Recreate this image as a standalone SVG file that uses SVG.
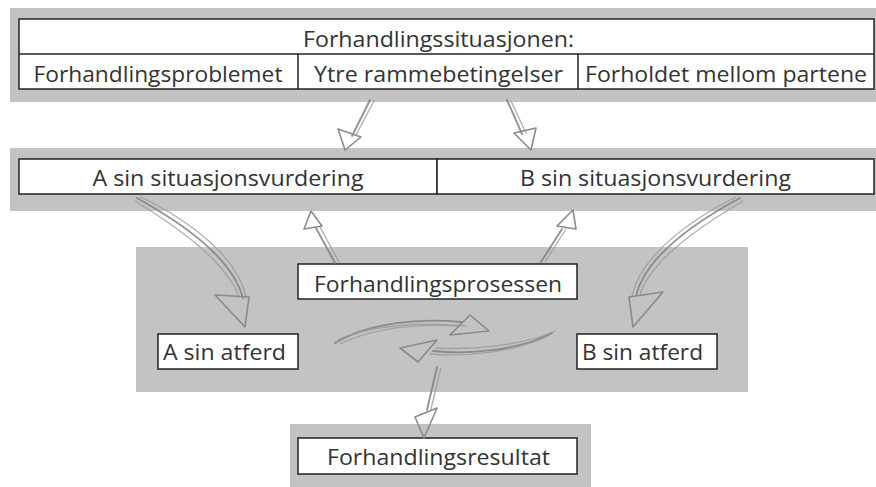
<svg xmlns="http://www.w3.org/2000/svg" width="876" height="487" viewBox="0 0 876 487">
<style>
.band{fill:#c3c3c3}
.box{fill:#fff;stroke:#222;stroke-width:1.5}
.sep{stroke:#222;stroke-width:1.5}
.t{font-family:"Open Sans","Noto Sans","Liberation Sans",sans-serif;font-size:21.5px;fill:#333;text-anchor:middle}
.sh{fill:none;stroke:#808080;stroke-width:1.9;stroke-linecap:round;opacity:.85}
.sh2{fill:none;stroke:#999;stroke-width:1.3;stroke-linecap:round;opacity:.8}
.hd{fill:none;stroke:#8a8a8a;stroke-width:1.6;stroke-linejoin:round}
</style>
<rect width="876" height="487" fill="#fff"/>
<g id="forhandlingssituasjonen">
<rect class="band" x="10" y="8" width="866" height="94"/>
<rect class="box" x="19" y="19" width="855" height="70"/>
<line class="sep" x1="19" y1="54" x2="874" y2="54"/>
<line class="sep" x1="298" y1="54" x2="298" y2="89"/>
<line class="sep" x1="578" y1="54" x2="578" y2="89"/>
<text class="t" x="438.5" y="47" textLength="271" lengthAdjust="spacingAndGlyphs">Forhandlingssituasjonen:</text>
<g id="forhandlingsproblemet"><text class="t" x="158" y="82" textLength="249" lengthAdjust="spacingAndGlyphs">Forhandlingsproblemet</text></g>
<g id="ytre-rammebetingelser"><text class="t" x="438.5" y="82" textLength="249" lengthAdjust="spacingAndGlyphs">Ytre rammebetingelser</text></g>
<g id="forholdet-mellom-partene"><text class="t" x="726" y="82" textLength="282" lengthAdjust="spacingAndGlyphs">Forholdet mellom partene</text></g>
</g>
<g id="situasjonsvurdering">
<rect class="band" x="10" y="148" width="866" height="63"/>
<g id="a-situasjonsvurdering">
<rect class="box" x="19" y="159" width="418" height="35"/>
<text class="t" x="228" y="186" textLength="271" lengthAdjust="spacingAndGlyphs">A sin situasjonsvurdering</text>
</g>
<g id="b-situasjonsvurdering">
<rect class="box" x="437" y="159" width="437" height="35"/>
<text class="t" x="655.5" y="186" textLength="271" lengthAdjust="spacingAndGlyphs">B sin situasjonsvurdering</text>
</g>
</g>
<g id="prosess-omrade">
<rect class="band" x="136" y="247" width="612" height="145"/>
</g>
<g id="forhandlingsprosessen">
<rect class="box" x="298" y="264" width="279" height="35"/>
<text class="t" x="438" y="292" textLength="248" lengthAdjust="spacingAndGlyphs">Forhandlingsprosessen</text>
</g>
<g id="a-atferd">
<rect class="box" x="158" y="334" width="140" height="35"/>
<text class="t" x="224.5" y="360" textLength="123" lengthAdjust="spacingAndGlyphs">A sin atferd</text>
</g>
<g id="b-atferd">
<rect class="box" x="577" y="334" width="140" height="35"/>
<text class="t" x="642.5" y="360" textLength="121" lengthAdjust="spacingAndGlyphs">B sin atferd</text>
</g>
<g id="forhandlingsresultat">
<rect class="band" x="290" y="424" width="301" height="63"/>
<rect class="box" x="298" y="438" width="279" height="36"/>
<text class="t" x="438.5" y="465" textLength="223" lengthAdjust="spacingAndGlyphs">Forhandlingsresultat</text>
</g>
<g id="connectors">
<path class="sh" d="M370,100 L352,136"/><path class="sh2" d="M374,101 L356,135"/>
<path class="hd" d="M345,150 L338,129 L361,137 Z"/>
<path class="sh" d="M507,100 L522,134"/><path class="sh2" d="M511,101 L526,133"/>
<path class="hd" d="M531,150 L514,133 L536,128 Z"/>
<path class="sh" d="M137,198 C185,225 232,258 243,298"/><path class="sh2" d="M141,197 C192,222 238,258 246,297"/><path class="sh2" d="M135,201 C182,230 226,262 239,297"/>
<path class="hd" d="M245,327 L215,295 L249,297 Z"/>
<path class="sh" d="M740,198 C690,225 645,258 636,296"/><path class="sh2" d="M736,197 C686,222 640,258 632,296"/><path class="sh2" d="M743,201 C694,230 650,262 640,295"/>
<path class="hd" d="M633,327 L629,297 L663,292 Z"/>
<path class="sh" d="M335,263 L316,228"/><path class="sh2" d="M339,262 L320,227"/>
<path class="hd" d="M311,211 L304,229 L322,226 Z"/>
<path class="sh" d="M541,262 L562,229"/><path class="sh2" d="M545,262 L566,229"/>
<path class="hd" d="M573,210 L557,226 L576,229 Z"/>
<path class="sh" d="M335,343 C370,322 420,318 462,322"/><path class="sh2" d="M338,340 C372,324 425,322 466,326"/><path class="sh2" d="M340,344 C375,327 420,324 458,326"/>
<path class="hd" d="M489,331 L470,315 L450,335 Z"/>
<path class="sh" d="M552,333 C520,350 470,355 433,351"/><path class="sh2" d="M548,336 C515,352 468,357 430,354"/><path class="sh2" d="M555,331 C522,346 472,350 436,348"/>
<path class="hd" d="M400,348 L437,340 L418,362 Z"/>
<path class="sh" d="M437,367 L427,410"/><path class="sh2" d="M441,368 L431,409"/>
<path class="hd" d="M424,438 L415,417 L437,408 Z"/>
</g>
</svg>
